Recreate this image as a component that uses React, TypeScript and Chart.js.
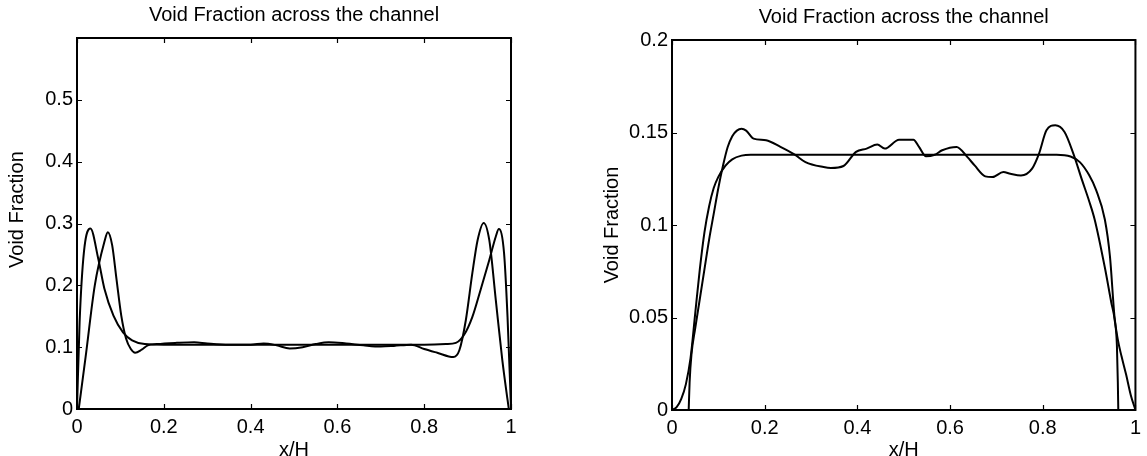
import React, { useEffect, useRef } from "react";
import { Chart, registerables } from "chart.js";

Chart.register(...registerables);

// ---------- text ----------
const TITLE = "Void Fraction across the channel";
const X_LABEL = "x/H";
const Y_LABEL = "Void Fraction";

// ---------- ticks ----------
const xTickValues = [0, 0.2, 0.4, 0.6, 0.8, 1];
const xTickLabels = ["0", "0.2", "0.4", "0.6", "0.8", "1"];
const leftYTickValues = [0, 0.1, 0.2, 0.3, 0.4, 0.5, 0.6];
const leftYTickLabels = ["0", "0.1", "0.2", "0.3", "0.4", "0.5", ""];
const rightYTickValues = [0, 0.05, 0.1, 0.15, 0.2];
const rightYTickLabels = ["0", "0.05", "0.1", "0.15", "0.2"];

// ---------- left panel: curve with wall peak (smooth) ----------
const leftWallX = [0, 0.006, 0.016, 0.031, 0.049, 0.063, 0.084, 0.106, 0.127, 0.156, 0.2, 0.4, 0.6, 0.8, 0.85, 0.873, 0.892, 0.911, 0.93, 0.95, 0.965, 0.972, 0.984, 0.992, 0.998, 1];
const leftWallY = [0, 0.14, 0.254, 0.292, 0.243, 0.195, 0.151, 0.124, 0.111, 0.105, 0.104, 0.104, 0.104, 0.104, 0.105, 0.107, 0.12, 0.149, 0.193, 0.241, 0.279, 0.291, 0.252, 0.149, 0.04, 0];

// ---------- left panel: oscillating curve ----------
const leftOscX = [0.004, 0.02, 0.041, 0.063, 0.071, 0.081, 0.091, 0.102, 0.113, 0.124, 0.134, 0.149, 0.163, 0.184, 0.23, 0.27, 0.3, 0.35, 0.4, 0.43, 0.46, 0.49, 0.52, 0.55, 0.58, 0.62, 0.66, 0.7, 0.73, 0.77, 0.8, 0.83, 0.867, 0.881, 0.896, 0.911, 0.923, 0.937, 0.95, 0.965, 0.98, 0.992, 0.995];
const leftOscY = [0, 0.085, 0.2, 0.27, 0.286, 0.265, 0.21, 0.151, 0.114, 0.097, 0.091, 0.096, 0.103, 0.105, 0.107, 0.108, 0.106, 0.104, 0.104, 0.106, 0.103, 0.098, 0.1, 0.105, 0.108, 0.106, 0.103, 0.101, 0.102, 0.104, 0.097, 0.091, 0.084, 0.095, 0.144, 0.22, 0.273, 0.301, 0.273, 0.176, 0.079, 0.015, 0];

// ---------- right panel: smooth plateau curve ----------
const rightSmoothX = [0, 0.01, 0.02, 0.03, 0.04, 0.05, 0.06, 0.07, 0.08, 0.09, 0.1, 0.115, 0.13, 0.15, 0.17, 0.3, 0.5, 0.7, 0.83, 0.86, 0.88, 0.9, 0.915, 0.934, 0.945, 0.955, 0.962, 0.97, 0.98, 0.99, 1];
const rightSmoothY = [0, 0.0015, 0.006, 0.014, 0.028, 0.052, 0.076, 0.096, 0.11, 0.12, 0.126, 0.132, 0.1355, 0.1375, 0.138, 0.138, 0.138, 0.138, 0.138, 0.137, 0.134, 0.127, 0.119, 0.103, 0.083, 0.05, 0.038, 0.029, 0.019, 0.008, 0];

// ---------- right panel: wiggly curve ----------
const rightWigX = [0.036, 0.038, 0.042, 0.05, 0.06, 0.07, 0.08, 0.09, 0.1, 0.11, 0.12, 0.13, 0.14, 0.15, 0.16, 0.176, 0.203, 0.234, 0.265, 0.288, 0.327, 0.343, 0.37, 0.397, 0.42, 0.443, 0.459, 0.49, 0.521, 0.533, 0.548, 0.567, 0.583, 0.614, 0.637, 0.653, 0.676, 0.691, 0.715, 0.73, 0.753, 0.777, 0.792, 0.808, 0.827, 0.847, 0.866, 0.885, 0.9, 0.912, 0.934, 0.948, 0.955, 0.96, 0.962, 0.963];
const rightWigY = [0, 0.015, 0.03, 0.044, 0.06, 0.076, 0.092, 0.106, 0.12, 0.132, 0.142, 0.148, 0.151, 0.152, 0.151, 0.1467, 0.1458, 0.1422, 0.138, 0.134, 0.1313, 0.1308, 0.1319, 0.1395, 0.1413, 0.1435, 0.1413, 0.1461, 0.1461, 0.1422, 0.1371, 0.138, 0.1404, 0.1422, 0.1368, 0.1322, 0.1263, 0.1259, 0.1286, 0.1277, 0.1268, 0.1305, 0.1386, 0.1512, 0.1539, 0.1503, 0.1386, 0.1241, 0.113, 0.103, 0.077, 0.058, 0.049, 0.035, 0.015, 0];

const FONT = "'Liberation Sans', Arial, Helvetica, sans-serif";

const toPoints = (xs: number[], ys: number[]) => xs.map((x, i) => ({ x, y: ys[i] }));

const framePlugin = {
  id: "matlabFrame",
  afterDatasetsDraw(chart: any) {
    const { ctx, chartArea: a, scales } = chart;
    const x = scales.x;
    const y = scales.y;
    ctx.save();
    ctx.strokeStyle = "#000";
    ctx.lineWidth = 1.2;
    ctx.beginPath();
    const L = 5;
    x.ticks.forEach((t: any) => {
      const px = Math.round(x.getPixelForValue(t.value)) + 0.5;
      ctx.moveTo(px, a.bottom);
      ctx.lineTo(px, a.bottom - L);
      ctx.moveTo(px, a.top);
      ctx.lineTo(px, a.top + L);
    });
    y.ticks.forEach((t: any) => {
      const py = Math.round(y.getPixelForValue(t.value)) + 0.5;
      ctx.moveTo(a.left, py);
      ctx.lineTo(a.left + L, py);
      ctx.moveTo(a.right, py);
      ctx.lineTo(a.right - L, py);
    });
    ctx.stroke();
    ctx.lineWidth = 2;
    ctx.strokeRect(a.left, a.top, a.right - a.left, a.bottom - a.top);
    ctx.restore();
  },
};

type PanelProps = {
  width: number;
  height: number;
  left: number;
  areaLeft: number;
  areaRight: number;
  areaTop: number;
  areaBottom: number;
  titleTop: number;
  yTitleCenter: number;
  yTitleText: string;
  yMax: number;
  yTickValues: number[];
  yTickLabels: string[];
  series: { x: number[]; y: number[] }[];
};

function Panel(p: PanelProps) {
  const ref = useRef<HTMLCanvasElement | null>(null);
  useEffect(() => {
    if (!ref.current) return;
    const chart = new Chart(ref.current, {
      type: "line",
      data: {
        datasets: p.series.map((s) => ({
          data: toPoints(s.x, s.y),
          borderColor: "#000",
          borderWidth: 2,
          pointRadius: 0,
          fill: false,
          cubicInterpolationMode: "monotone" as const,
        })),
      },
      options: {
        animation: false,
        responsive: false,
        events: [],
        layout: {
          padding: { left: 0, right: p.width - p.areaRight, top: 0, bottom: 0 },
        },
        plugins: {
          legend: { display: false },
          tooltip: { enabled: false },
          title: {
            display: true,
            text: TITLE,
            color: "#000",
            fullSize: false,
            font: { family: FONT, size: 20, weight: "normal", lineHeight: 1.2 },
            padding: { top: p.titleTop, bottom: p.areaTop - p.titleTop - 24 },
          },
        },
        scales: {
          x: {
            type: "linear",
            min: 0,
            max: 1,
            afterBuildTicks: (scale: any) => {
              scale.ticks = xTickValues.map((v) => ({ value: v }));
            },
            afterFit: (scale: any) => {
              scale.height = p.height - p.areaBottom;
            },
            grid: { display: false, drawTicks: false },
            border: { display: false },
            ticks: {
              color: "#000",
              padding: 6,
              maxRotation: 0,
              autoSkip: false,
              font: { family: FONT, size: 20 },
              callback: (_v: any, i: number) => xTickLabels[i],
            },
            title: {
              display: true,
              text: X_LABEL,
              color: "#000",
              font: { family: FONT, size: 20, lineHeight: 0.6 },
              padding: { top: 0, bottom: 0 },
            },
          },
          y: {
            type: "linear",
            min: 0,
            max: p.yMax,
            afterBuildTicks: (scale: any) => {
              scale.ticks = p.yTickValues.map((v) => ({ value: v }));
            },
            afterFit: (scale: any) => {
              scale.width = p.areaLeft;
            },
            grid: { display: false, drawTicks: false },
            border: { display: false },
            ticks: {
              color: "#000",
              padding: 4,
              autoSkip: false,
              font: { family: FONT, size: 20 },
              callback: (_v: any, i: number) => p.yTickLabels[i],
            },
            title: {
              display: true,
              text: p.yTitleText,
              color: "#000",
              font: { family: FONT, size: 20, lineHeight: 1.2 },
              padding: { top: p.yTitleCenter - 12, bottom: 0 },
            },
          },
        },
      },
      plugins: [framePlugin],
    } as any);
    return () => chart.destroy();
  }, []);
  return (
    <canvas
      ref={ref}
      width={p.width}
      height={p.height}
      style={{ position: "absolute", left: p.left, top: 0, width: p.width, height: p.height }}
    />
  );
}

export default function App() {
  return (
    <div style={{ position: "absolute", left: 0, top: 0, width: 1147, height: 456, background: "#fff", overflow: "hidden" }}>
      <Panel
        width={575}
        height={456}
        left={0}
        areaLeft={77}
        areaRight={511}
        areaTop={38}
        areaBottom={409}
        titleTop={3}
        yTitleCenter={17}
        yTitleText={"     " + Y_LABEL}
        yMax={0.6}
        yTickValues={leftYTickValues}
        yTickLabels={leftYTickLabels}
        series={[
          { x: leftWallX, y: leftWallY },
          { x: leftOscX, y: leftOscY },
        ]}
      />
      <Panel
        width={572}
        height={456}
        left={575}
        areaLeft={97}
        areaRight={564}
        areaTop={40}
        areaBottom={410}
        titleTop={5}
        yTitleCenter={37}
        yTitleText={Y_LABEL}
        yMax={0.2}
        yTickValues={rightYTickValues}
        yTickLabels={rightYTickLabels}
        series={[
          { x: rightSmoothX, y: rightSmoothY },
          { x: rightWigX, y: rightWigY },
        ]}
      />
    </div>
  );
}
